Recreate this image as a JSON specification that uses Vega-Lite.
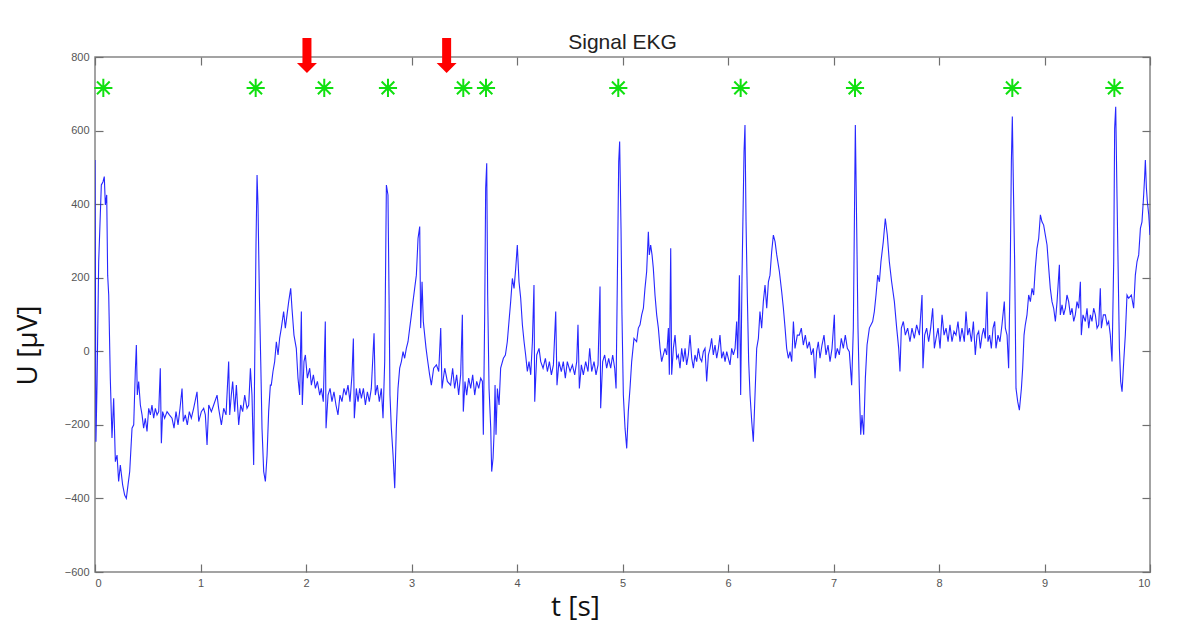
{
"$schema": "https://vega.github.io/schema/vega-lite/v6.json",
"width": 1055, "height": 515,
"autosize": "none",
"padding": {"left": 95, "top": 57, "right": 36, "bottom": 63},
"background": "white",
"title": {"text": "Signal EKG", "fontSize": 21, "font": "Liberation Sans", "fontWeight": "normal", "color": "#222222", "baseline": "alphabetic", "offset": 10, "dy": 42},
"config": {
  "view": {"stroke": "#858585", "strokeWidth": 1.5},
  "axis": {"domain": false, "grid": false, "tickSize": -8, "tickColor": "#6f6f6f", "tickWidth": 1.2, "labelFont": "Liberation Sans", "labelFontSize": 11, "labelColor": "#555555", "titleFont": "Open Sans", "titleFontWeight": "normal", "titleColor": "#111111"}
},
"datasets": {
"ekg": [
{"t":0.000,"u":520},{"t":0.009,"u":-246},{"t":0.019,"u":-92},{"t":0.035,"u":244},{"t":0.060,"u":452},{"t":0.076,"u":461},{"t":0.088,"u":475},{"t":0.098,"u":398},{"t":0.111,"u":425},{"t":0.120,"u":207},{"t":0.130,"u":153},{"t":0.145,"u":-73},{"t":0.161,"u":-236},{"t":0.177,"u":-128},{"t":0.193,"u":-300},{"t":0.209,"u":-282},{"t":0.224,"u":-354},{"t":0.240,"u":-309},{"t":0.262,"u":-363},{"t":0.281,"u":-391},{"t":0.297,"u":-400},{"t":0.313,"u":-363},{"t":0.329,"u":-327},{"t":0.351,"u":-209},{"t":0.367,"u":-200},{"t":0.382,"u":-55},{"t":0.392,"u":17},{"t":0.401,"u":-119},{"t":0.414,"u":-82},{"t":0.430,"u":-146},{"t":0.446,"u":-173},{"t":0.461,"u":-209},{"t":0.477,"u":-182},{"t":0.493,"u":-218},{"t":0.509,"u":-155},{"t":0.525,"u":-173},{"t":0.540,"u":-146},{"t":0.556,"u":-182},{"t":0.572,"u":-155},{"t":0.588,"u":-173},{"t":0.604,"u":-164},{"t":0.619,"u":-46},{"t":0.629,"u":-250},{"t":0.641,"u":-164},{"t":0.660,"u":-182},{"t":0.683,"u":-164},{"t":0.705,"u":-173},{"t":0.730,"u":-182},{"t":0.749,"u":-209},{"t":0.768,"u":-164},{"t":0.787,"u":-200},{"t":0.806,"u":-155},{"t":0.825,"u":-101},{"t":0.837,"u":-191},{"t":0.856,"u":-173},{"t":0.875,"u":-200},{"t":0.894,"u":-164},{"t":0.913,"u":-182},{"t":0.935,"u":-155},{"t":0.967,"u":-110},{"t":0.983,"u":-191},{"t":1.008,"u":-164},{"t":1.030,"u":-155},{"t":1.046,"u":-173},{"t":1.062,"u":-255},{"t":1.078,"u":-146},{"t":1.103,"u":-164},{"t":1.125,"u":-146},{"t":1.157,"u":-119},{"t":1.172,"u":-155},{"t":1.198,"u":-200},{"t":1.220,"u":-155},{"t":1.242,"u":-173},{"t":1.267,"u":-28},{"t":1.277,"u":-173},{"t":1.292,"u":-119},{"t":1.305,"u":-82},{"t":1.324,"u":-164},{"t":1.340,"u":-92},{"t":1.362,"u":-200},{"t":1.381,"u":-146},{"t":1.400,"u":-164},{"t":1.419,"u":-119},{"t":1.441,"u":-155},{"t":1.457,"u":-146},{"t":1.473,"u":-46},{"t":1.488,"u":-119},{"t":1.504,"u":-309},{"t":1.514,"u":-28},{"t":1.526,"u":289},{"t":1.536,"u":479},{"t":1.545,"u":398},{"t":1.558,"u":153},{"t":1.571,"u":-28},{"t":1.583,"u":-209},{"t":1.599,"u":-327},{"t":1.615,"u":-354},{"t":1.631,"u":-282},{"t":1.646,"u":-164},{"t":1.662,"u":-92},
{"t":1.671,"u":-92},{"t":1.687,"u":-55},{"t":1.703,"u":-28},{"t":1.719,"u":26},{"t":1.735,"u":-10},{"t":1.750,"u":35},{"t":1.766,"u":63},{"t":1.788,"u":108},{"t":1.804,"u":63},{"t":1.820,"u":99},{"t":1.836,"u":135},{"t":1.855,"u":171},{"t":1.867,"u":117},{"t":1.886,"u":44},{"t":1.908,"u":8},{"t":1.924,"u":-73},{"t":1.940,"u":-119},{"t":1.956,"u":108},{"t":1.965,"u":-146},{"t":1.981,"u":-28},{"t":1.994,"u":-10},{"t":2.013,"u":-73},{"t":2.035,"u":-46},{"t":2.051,"u":-92},{"t":2.070,"u":-64},{"t":2.089,"u":-101},{"t":2.108,"u":-82},{"t":2.130,"u":-119},{"t":2.145,"u":-101},{"t":2.164,"u":-137},{"t":2.183,"u":81},{"t":2.190,"u":-209},{"t":2.209,"u":-119},{"t":2.228,"u":-101},{"t":2.246,"u":-137},{"t":2.265,"u":-110},{"t":2.284,"u":-146},{"t":2.303,"u":-173},{"t":2.322,"u":-119},{"t":2.341,"u":-137},{"t":2.360,"u":-101},{"t":2.379,"u":-119},{"t":2.398,"u":-92},{"t":2.417,"u":-137},{"t":2.436,"u":-64},{"t":2.449,"u":35},{"t":2.458,"u":-182},{"t":2.477,"u":-101},{"t":2.493,"u":-137},{"t":2.509,"u":-101},{"t":2.525,"u":-128},{"t":2.544,"u":-101},{"t":2.563,"u":-146},{"t":2.582,"u":-110},{"t":2.600,"u":-137},{"t":2.619,"u":-101},{"t":2.645,"u":49},{"t":2.657,"u":-119},{"t":2.676,"u":-92},{"t":2.695,"u":-137},{"t":2.714,"u":-101},{"t":2.730,"u":-182},{"t":2.746,"u":-28},{"t":2.762,"u":452},{"t":2.777,"u":425},{"t":2.787,"u":153},{"t":2.796,"u":-119},{"t":2.809,"u":-209},{"t":2.825,"u":-282},{"t":2.841,"u":-372},{"t":2.856,"u":-209},{"t":2.872,"u":-101},{"t":2.888,"u":-46},{"t":2.904,"u":-28},{"t":2.920,"u":-1},{"t":2.935,"u":-19},{"t":2.951,"u":8},{"t":2.967,"u":26},{"t":2.983,"u":63},{"t":2.999,"u":99},{"t":3.014,"u":135},{"t":3.030,"u":171},{"t":3.046,"u":207},{"t":3.062,"u":307},{"t":3.078,"u":339},{"t":3.087,"u":63},{"t":3.100,"u":189},{"t":3.112,"u":81},{"t":3.125,"u":44},{"t":3.138,"u":8},{"t":3.150,"u":-19},{"t":3.172,"u":-64},{"t":3.188,"u":-92},{"t":3.210,"u":-46},{"t":3.236,"u":-37},{"t":3.258,"u":-55},{"t":3.277,"u":63},{"t":3.289,"u":-101},{"t":3.315,"u":-46},{"t":3.340,"u":-82},
{"t":3.371,"u":-92},{"t":3.390,"u":-46},{"t":3.409,"u":-101},{"t":3.428,"u":-64},{"t":3.447,"u":-119},{"t":3.466,"u":-64},{"t":3.482,"u":99},{"t":3.491,"u":-164},{"t":3.507,"u":-82},{"t":3.523,"u":-119},{"t":3.542,"u":-73},{"t":3.561,"u":-101},{"t":3.580,"u":-64},{"t":3.599,"u":-119},{"t":3.618,"u":-82},{"t":3.637,"u":-101},{"t":3.656,"u":-73},{"t":3.672,"u":-82},{"t":3.681,"u":-227},{"t":3.694,"u":108},{"t":3.703,"u":443},{"t":3.713,"u":511},{"t":3.722,"u":153},{"t":3.735,"u":-101},{"t":3.751,"u":-209},{"t":3.760,"u":-327},{"t":3.773,"u":-291},{"t":3.782,"u":-227},{"t":3.792,"u":-92},{"t":3.801,"u":-227},{"t":3.814,"u":-101},{"t":3.830,"u":-146},{"t":3.845,"u":-46},{"t":3.871,"u":-19},{"t":3.890,"u":-10},{"t":3.908,"u":26},{"t":3.924,"u":81},{"t":3.940,"u":135},{"t":3.956,"u":198},{"t":3.972,"u":171},{"t":3.988,"u":226},{"t":4.003,"u":289},{"t":4.019,"u":189},{"t":4.035,"u":144},{"t":4.051,"u":72},{"t":4.067,"u":26},{"t":4.082,"u":-10},{"t":4.098,"u":-55},{"t":4.114,"u":-28},{"t":4.130,"u":-64},{"t":4.146,"u":26},{"t":4.161,"u":180},{"t":4.168,"u":-137},{"t":4.187,"u":-10},{"t":4.209,"u":8},{"t":4.225,"u":-28},{"t":4.247,"u":-46},{"t":4.269,"u":-19},{"t":4.288,"u":-55},{"t":4.307,"u":-28},{"t":4.326,"u":-64},{"t":4.345,"u":-37},{"t":4.367,"u":108},{"t":4.379,"u":-92},{"t":4.398,"u":-28},{"t":4.420,"u":-55},{"t":4.439,"u":-28},{"t":4.458,"u":-73},{"t":4.477,"u":-28},{"t":4.503,"u":-55},{"t":4.525,"u":-37},{"t":4.547,"u":-64},{"t":4.566,"u":-28},{"t":4.578,"u":72},{"t":4.591,"u":-101},{"t":4.610,"u":-37},{"t":4.629,"u":-64},{"t":4.651,"u":-28},{"t":4.673,"u":-55},{"t":4.689,"u":8},{"t":4.708,"u":-55},{"t":4.730,"u":-28},{"t":4.749,"u":-64},{"t":4.768,"u":-37},{"t":4.787,"u":176},{"t":4.793,"u":-155},{"t":4.812,"u":-28},{"t":4.831,"u":-10},{"t":4.850,"u":-46},{"t":4.869,"u":-19},{"t":4.888,"u":-46},{"t":4.907,"u":-10},{"t":4.926,"u":-46},{"t":4.939,"u":-101},{"t":4.951,"u":189},{"t":4.964,"u":516},{"t":4.973,"u":570},
{"t":4.986,"u":334},{"t":4.995,"u":99},{"t":5.008,"u":-119},{"t":5.024,"u":-209},{"t":5.040,"u":-264},{"t":5.055,"u":-164},{"t":5.071,"u":-101},{"t":5.087,"u":-28},{"t":5.109,"u":35},{"t":5.134,"u":26},{"t":5.150,"u":63},{"t":5.166,"u":72},{"t":5.182,"u":99},{"t":5.198,"u":117},{"t":5.213,"u":171},{"t":5.229,"u":217},{"t":5.245,"u":325},{"t":5.254,"u":262},{"t":5.267,"u":289},{"t":5.280,"u":262},{"t":5.292,"u":226},{"t":5.308,"u":153},{"t":5.324,"u":99},{"t":5.340,"u":63},{"t":5.356,"u":8},{"t":5.371,"u":-28},{"t":5.387,"u":-10},{"t":5.403,"u":8},{"t":5.419,"u":-10},{"t":5.435,"u":63},{"t":5.444,"u":-64},{"t":5.457,"u":280},{"t":5.466,"u":-64},{"t":5.482,"u":8},{"t":5.498,"u":44},{"t":5.514,"u":-19},{"t":5.529,"u":-10},{"t":5.545,"u":-46},{"t":5.561,"u":8},{"t":5.577,"u":-28},{"t":5.593,"u":8},{"t":5.608,"u":-37},{"t":5.624,"u":-10},{"t":5.640,"u":44},{"t":5.656,"u":-19},{"t":5.672,"u":-46},{"t":5.687,"u":-10},{"t":5.703,"u":-28},{"t":5.719,"u":8},{"t":5.735,"u":-19},{"t":5.751,"u":-28},{"t":5.766,"u":-1},{"t":5.782,"u":8},{"t":5.798,"u":-82},{"t":5.814,"u":-10},{"t":5.830,"u":8},{"t":5.845,"u":35},{"t":5.861,"u":-10},{"t":5.877,"u":17},{"t":5.893,"u":-19},{"t":5.909,"u":8},{"t":5.924,"u":44},{"t":5.940,"u":-19},{"t":5.956,"u":-1},{"t":5.972,"u":-28},{"t":5.988,"u":-1},{"t":6.003,"u":-19},{"t":6.019,"u":-37},{"t":6.035,"u":8},{"t":6.051,"u":-10},{"t":6.067,"u":8},{"t":6.082,"u":81},{"t":6.092,"u":-19},{"t":6.108,"u":207},{"t":6.120,"u":-119},{"t":6.133,"u":207},{"t":6.152,"u":543},{"t":6.161,"u":615},{"t":6.171,"u":352},{"t":6.183,"u":153},{"t":6.196,"u":-28},{"t":6.209,"u":-119},{"t":6.225,"u":-191},{"t":6.240,"u":-246},{"t":6.256,"u":-119},{"t":6.272,"u":8},{"t":6.288,"u":35},{"t":6.303,"u":108},{"t":6.319,"u":63},{"t":6.335,"u":135},{"t":6.351,"u":180},{"t":6.367,"u":117},{"t":6.383,"u":189},{"t":6.398,"u":207},{"t":6.414,"u":271},{"t":6.430,"u":316},{"t":6.446,"u":298},{"t":6.462,"u":262},{"t":6.487,"u":217},{"t":6.509,"u":162},{"t":6.525,"u":117},{"t":6.541,"u":63},{"t":6.556,"u":8},{"t":6.572,"u":-19},{"t":6.588,"u":-1},{"t":6.604,"u":-28},{"t":6.620,"u":81},{"t":6.635,"u":8},{"t":6.657,"u":44},
{"t":6.676,"u":44},{"t":6.695,"u":63},{"t":6.714,"u":17},{"t":6.733,"u":44},{"t":6.752,"u":8},{"t":6.771,"u":26},{"t":6.790,"u":-10},{"t":6.809,"u":8},{"t":6.825,"u":-73},{"t":6.840,"u":-1},{"t":6.856,"u":26},{"t":6.872,"u":-19},{"t":6.891,"u":17},{"t":6.910,"u":44},{"t":6.929,"u":-10},{"t":6.948,"u":17},{"t":6.967,"u":-28},{"t":6.986,"u":8},{"t":7.008,"u":99},{"t":7.017,"u":-19},{"t":7.036,"u":8},{"t":7.055,"u":-10},{"t":7.074,"u":35},{"t":7.093,"u":8},{"t":7.112,"u":44},{"t":7.131,"u":8},{"t":7.150,"u":-1},{"t":7.172,"u":-92},{"t":7.188,"u":63},{"t":7.198,"u":352},{"t":7.207,"u":615},{"t":7.220,"u":334},{"t":7.232,"u":63},{"t":7.245,"u":-101},{"t":7.258,"u":-227},{"t":7.270,"u":-173},{"t":7.286,"u":-227},{"t":7.302,"u":-73},{"t":7.318,"u":17},{"t":7.340,"u":63},{"t":7.371,"u":81},{"t":7.387,"u":108},{"t":7.403,"u":153},{"t":7.419,"u":207},{"t":7.435,"u":189},{"t":7.450,"u":244},{"t":7.472,"u":298},{"t":7.491,"u":361},{"t":7.510,"u":316},{"t":7.529,"u":244},{"t":7.551,"u":189},{"t":7.577,"u":135},{"t":7.599,"u":63},{"t":7.618,"u":8},{"t":7.630,"u":-55},{"t":7.643,"u":63},{"t":7.662,"u":81},{"t":7.681,"u":44},{"t":7.703,"u":63},{"t":7.725,"u":26},{"t":7.744,"u":63},{"t":7.766,"u":35},{"t":7.788,"u":72},{"t":7.814,"u":44},{"t":7.839,"u":153},{"t":7.848,"u":-46},{"t":7.864,"u":44},{"t":7.883,"u":63},{"t":7.902,"u":26},{"t":7.921,"u":63},{"t":7.940,"u":117},{"t":7.956,"u":8},{"t":7.972,"u":35},{"t":7.991,"u":63},{"t":8.010,"u":8},{"t":8.029,"u":99},{"t":8.048,"u":44},{"t":8.067,"u":63},{"t":8.086,"u":26},{"t":8.104,"u":72},{"t":8.123,"u":26},{"t":8.142,"u":54},{"t":8.161,"u":44},{"t":8.180,"u":81},{"t":8.199,"u":26},{"t":8.218,"u":63},{"t":8.240,"u":26},{"t":8.256,"u":108},{"t":8.272,"u":44},{"t":8.288,"u":63},{"t":8.307,"u":26},{"t":8.326,"u":81},
{"t":8.344,"u":-10},{"t":8.360,"u":44},{"t":8.376,"u":54},{"t":8.392,"u":8},{"t":8.408,"u":44},{"t":8.423,"u":63},{"t":8.439,"u":35},{"t":8.455,"u":162},{"t":8.464,"u":26},{"t":8.480,"u":44},{"t":8.496,"u":8},{"t":8.512,"u":63},{"t":8.528,"u":81},{"t":8.540,"u":8},{"t":8.559,"u":44},{"t":8.578,"u":26},{"t":8.597,"u":72},{"t":8.619,"u":135},{"t":8.629,"u":63},{"t":8.645,"u":44},{"t":8.660,"u":-46},{"t":8.676,"u":244},{"t":8.686,"u":516},{"t":8.695,"u":638},{"t":8.708,"u":398},{"t":8.717,"u":244},{"t":8.730,"u":-101},{"t":8.746,"u":-137},{"t":8.762,"u":-160},{"t":8.781,"u":-101},{"t":8.793,"u":-46},{"t":8.806,"u":44},{"t":8.818,"u":72},{"t":8.834,"u":99},{"t":8.850,"u":153},{"t":8.866,"u":135},{"t":8.882,"u":171},{"t":8.897,"u":153},{"t":8.913,"u":226},{"t":8.929,"u":280},{"t":8.945,"u":307},{"t":8.961,"u":371},{"t":8.976,"u":352},{"t":8.992,"u":343},{"t":9.008,"u":316},{"t":9.024,"u":289},{"t":9.040,"u":226},{"t":9.055,"u":171},{"t":9.071,"u":135},{"t":9.087,"u":117},{"t":9.103,"u":81},{"t":9.119,"u":135},{"t":9.141,"u":235},{"t":9.150,"u":99},{"t":9.166,"u":126},{"t":9.182,"u":99},{"t":9.198,"u":117},{"t":9.213,"u":153},{"t":9.229,"u":135},{"t":9.245,"u":99},{"t":9.261,"u":117},{"t":9.277,"u":81},{"t":9.292,"u":99},{"t":9.308,"u":135},{"t":9.324,"u":117},{"t":9.340,"u":189},{"t":9.349,"u":44},{"t":9.365,"u":99},{"t":9.387,"u":81},{"t":9.403,"u":117},{"t":9.419,"u":63},{"t":9.435,"u":99},{"t":9.450,"u":81},{"t":9.466,"u":117},{"t":9.482,"u":99},{"t":9.498,"u":63},{"t":9.514,"u":72},{"t":9.529,"u":171},{"t":9.539,"u":63},{"t":9.558,"u":99},{"t":9.577,"u":99},{"t":9.593,"u":72},{"t":9.608,"u":81},{"t":9.624,"u":44},{"t":9.640,"u":-28},{"t":9.656,"u":244},{"t":9.665,"u":606},{"t":9.675,"u":665},{"t":9.687,"u":425},{"t":9.697,"u":244},{"t":9.710,"u":8},{"t":9.722,"u":-82},{"t":9.735,"u":-110},{"t":9.751,"u":-28},{"t":9.766,"u":44},{"t":9.782,"u":153},{"t":9.798,"u":144},{"t":9.823,"u":153},{"t":9.845,"u":117},{"t":9.861,"u":207},{"t":9.877,"u":244},{"t":9.893,"u":262},{"t":9.909,"u":334},{"t":9.924,"u":352},{"t":9.940,"u":425},{"t":9.950,"u":479},{"t":9.956,"u":520},{"t":9.966,"u":443},{"t":9.975,"u":407},{"t":9.988,"u":371},{"t":10.0,"u":316}
],
"peaks": [
{"t":0.079,"u":716},{"t":1.523,"u":716},{"t":2.173,"u":716},{"t":2.777,"u":716},{"t":3.491,"u":716},{"t":3.706,"u":716},{"t":4.960,"u":716},{"t":6.120,"u":716},{"t":7.204,"u":716},{"t":8.695,"u":716},{"t":9.662,"u":716}
],
"arrows": [
{"t":2.009,"u":804},{"t":3.333,"u":804}
]
},
"layer": [
  {
    "data": {"name": "ekg"},
    "mark": {"type": "line", "stroke": "#1010ff", "strokeWidth": 1.1, "opacity": 0.9, "clip": true},
    "encoding": {
      "x": {"field": "t", "type": "quantitative", "scale": {"domain": [0, 10], "nice": false, "zero": false},
            "axis": {"orient": "bottom", "values": [0,1,2,3,4,5,6,7,8,9,10], "labelPadding": 13, "title": "t [s]", "titleFontSize": 28, "titleX": 480, "titleY": 35, "titleBaseline": "middle", "titleAlign": "center"}},
      "y": {"field": "u", "type": "quantitative", "scale": {"domain": [-600, 800], "nice": false, "zero": false},
            "axis": {"orient": "left", "values": [-600,-400,-200,0,200,400,600,800], "labelPadding": 14, "title": "U [µV]", "titleFontSize": 28, "titleAngle": 270, "titleX": -67, "titleY": 288, "titleBaseline": "middle", "titleAlign": "center"}}
    }
  },
  {
    "data": {"name": "peaks"},
    "mark": {"type": "point", "shape": "M0,-1L0,1M-1,0L1,0M-0.7,-0.7L0.7,0.7M-0.7,0.7L0.7,-0.7", "filled": false, "stroke": "#10e010", "strokeWidth": 2, "size": 330, "opacity": 1},
    "encoding": {
      "x": {"field": "t", "type": "quantitative", "axis": {"orient": "top", "values": [0,1,2,3,4,5,6,7,8,9,10], "labels": false, "title": null}},
      "y": {"field": "u", "type": "quantitative", "axis": {"orient": "right", "values": [-600,-400,-200,0,200,400,600,800], "labels": false, "title": null}}
    }
  },
  {
    "data": {"name": "arrows"},
    "mark": {"type": "point", "shape": "M-0.257,-1L0.257,-1L0.257,0.43L0.571,0.43L0,1L-0.571,0.43L-0.257,0.43Z", "filled": true, "fill": "#ff0000", "strokeWidth": 0, "size": 1225, "opacity": 1},
    "encoding": {
      "x": {"field": "t", "type": "quantitative", "axis": null},
      "y": {"field": "u", "type": "quantitative", "axis": null}
    }
  }
],
"resolve": {"axis": {"x": "independent", "y": "independent"}}
}
